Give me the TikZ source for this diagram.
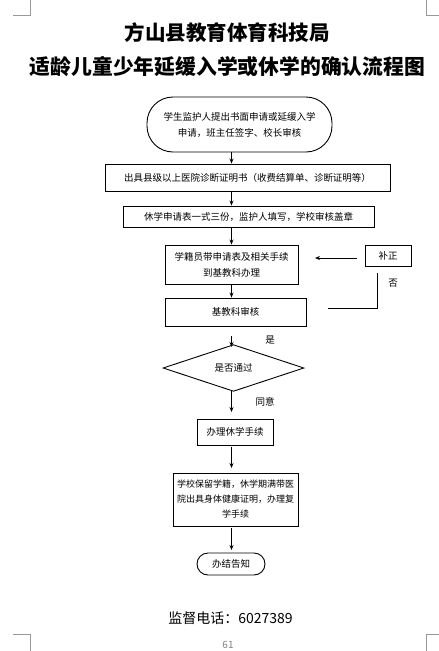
\documentclass[tikz,border=0pt]{standalone}
\usepackage{fontspec}
\setmainfont{Noto Sans CJK SC}
\usetikzlibrary{arrows.meta,shapes.geometric}
\begin{document}
\begin{tikzpicture}[x=1pt,y=-1pt,
  box/.style={draw, line width=0.9pt, inner sep=0pt, align=center, font=\fontsize{9.5}{16}\selectfont},
  arr/.style={line width=0.9pt, -{Stealth[length=5pt,width=4pt]}},
  lnk/.style={line width=0.9pt},
  lbl/.style={inner sep=0pt, font=\fontsize{9.5}{12}\selectfont},
  crn/.style={draw=black!40, line width=0.8pt}]
\useasboundingbox (0,0) rectangle (439,651);
% corner marks
\draw[crn] (13,15) -- (30,15) -- (30,0);
\draw[crn] (426,0) -- (426,15) -- (439,15);
\draw[crn] (13,634) -- (30,634) -- (30,651);
\draw[crn] (426,651) -- (426,634) -- (439,634);
% titles
\node[inner sep=0pt, font=\fontsize{20.5}{24}\selectfont\bfseries] (t1) at (227,33) {方山县教育体育科技局};
\node[inner sep=0pt, font=\fontsize{20.8}{24}\selectfont\bfseries] (t2) at (227.5,67) {适龄儿童少年延缓入学或休学的确认流程图};
\coordinate (ax) at (231.5,0);
% nodes
\node[box, rounded corners=26pt, minimum width=185pt, minimum height=55pt] (s) at (239.5,124.5) {学生监护人提出书面申请或延缓入学\\申请，班主任签字、校长审核};
\node[box, minimum width=285pt, minimum height=27pt] (b2) at (247.5,177.5) {出具县级以上医院诊断证明书（收费结算单、诊断证明等）};
\node[box, minimum width=251pt, minimum height=21pt] (b3) at (248.5,216.5) {休学申请表一式三份，监护人填写，学校审核盖章};
\node[box, minimum width=133pt, minimum height=39pt] (b4) at (231.5,264.5) {学籍员带申请表及相关手续\\到基教科办理};
\node[box, minimum width=141pt, minimum height=28pt] (b5) at (235.5,312) {基教科审核};
\node[box, minimum width=46pt, minimum height=21pt] (bz) at (388,255.5) {补正};
\node[box, diamond, minimum width=141pt, minimum height=32pt] (dia) at (233.5,368) {是否通过};
\node[box, minimum width=76pt, minimum height=26pt] (b6) at (235,432) {办理休学手续};
\node[box, minimum width=125pt, minimum height=53pt, font=\fontsize{9}{15}\selectfont] (b7) at (235.5,499.5) {学校保留学籍，休学期满带医\\院出具身体健康证明，办理复\\学手续};
\node[box, rounded corners=11pt, minimum width=68pt, minimum height=22pt] (e) at (231,564) {办结告知};
% labels
\node[lbl] (yes) at (270,340) {是};
\node[lbl] (agree) at (265,402) {同意};
\node[lbl] (no) at (393,283) {否};
% phone and page number
\node[inner sep=0pt, font=\fontsize{14}{16}\selectfont] (ph) at (230.5,618) {监督电话：6027389};
\node[inner sep=0pt, text=black!50, font=\fontsize{10}{12}\selectfont] (pg) at (228,645) {61};
% free-end coordinates
\coordinate (a5s) at (231.5,336);
\coordinate (a5e) at (231.5,347);
\coordinate (a6s) at (231.5,390);
\coordinate (a6e) at (231.5,412);
\coordinate (a7s) at (231.5,447);
\coordinate (a7e) at (231.5,468);
\coordinate (a8s) at (231.5,528);
\coordinate (a8e) at (231.5,550);
\coordinate (bzs) at (357,258);
\coordinate (bze) at (315,258);
\coordinate (r1) at (328,308);
\coordinate (r2) at (377,308);
\coordinate (r3) at (377,273);
% connectors
\draw[arr] (s.south -| ax) -- (b2.north -| ax);
\draw[arr] (b2.south -| ax) -- (b3.north -| ax);
\draw[arr] (b3.south -| ax) -- (b4.north -| ax);
\draw[arr] (b4.south -| ax) -- (b5.north -| ax);
\draw[arr] (a5s) -- (a5e);
\draw[arr] (a6s) -- (a6e);
\draw[arr] (a7s) -- (a7e);
\draw[arr] (a8s) -- (a8e);
\draw[arr] (bzs) -- (bze);
\draw[lnk] (r1) -- (r2) -- (r3);
\end{tikzpicture}
\end{document}
